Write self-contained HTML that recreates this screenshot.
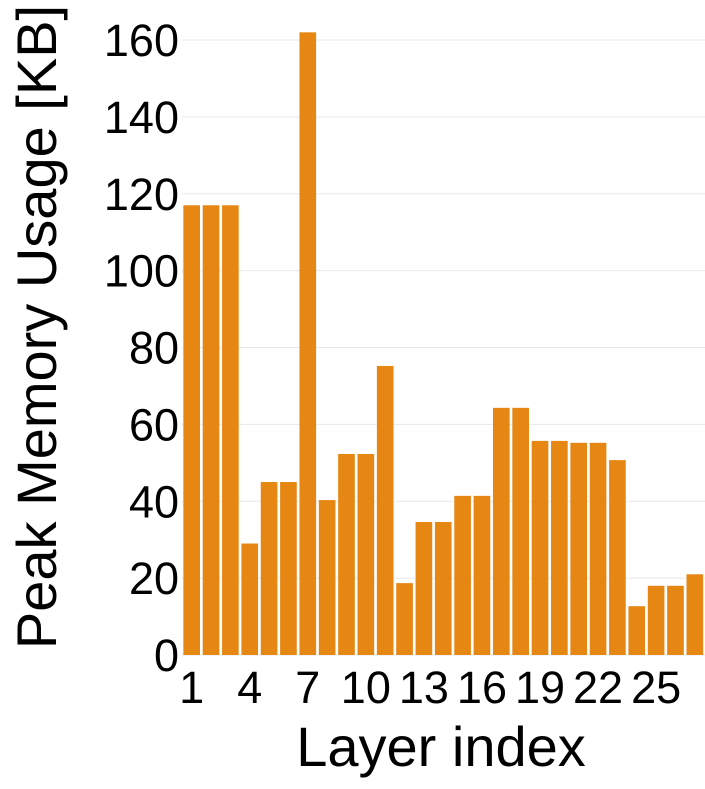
<!DOCTYPE html>
<html><head><meta charset="utf-8"><style>
body{margin:0;background:#fff;}
svg text{font-family:"Liberation Sans",sans-serif;fill:#000;}
</style></head><body>
<svg id="chart" width="705" height="784" xmlns="http://www.w3.org/2000/svg">
<g id="grid"></g>
<g id="bars"></g>
<g id="yticks"></g>
<g id="xticks"></g>
<text transform="translate(56,327) rotate(-90)" text-anchor="middle" font-size="56">Peak Memory Usage [KB]</text>
<text x="441" y="766" text-anchor="middle" font-size="56">Layer index</text>
</svg>
<script>
const values=[117,117,117,29,45,45,162,40.3,52.3,52.3,75.2,18.7,34.6,34.6,41.4,41.4,64.3,64.3,55.7,55.7,55.2,55.2,50.7,12.7,18,18,21];
const yTicks=[0,20,40,60,80,100,120,140,160];
const xTickLabels=[1,4,7,10,13,16,19,22,25];
const ns="http://www.w3.org/2000/svg";
const x0=182,x1=704.5,y0=655,yTop=40,yMax=160;
const step=(x1-x0)/values.length,bw=step*0.86;
const y=v=>y0-(v/yMax)*(y0-yTop);
const cx=i=>x0+(i+0.5)*step;
function mk(t,a,p){const e=document.createElementNS(ns,t);for(const k in a)e.setAttribute(k,a[k]);p.appendChild(e);return e;}
const g=document.getElementById('grid'),b=document.getElementById('bars'),yt=document.getElementById('yticks'),xt=document.getElementById('xticks');
yTicks.forEach(v=>{
 const l=mk('line',{x1:x0,x2:705,y1:y(v),y2:y(v),stroke:'#e6e8ef','stroke-width':1},g);
 
 
 const t=mk('text',{x:179,y:y(v)+16,'text-anchor':'end','font-size':45},yt);
 t.textContent=v;
 
 
});
values.forEach((v,i)=>{
 const r=mk('rect',{x:cx(i)-bw/2,y:y(v),width:bw,height:y0-y(v),fill:'#e68613'},b);
 
 
});
xTickLabels.forEach(v=>{
 const t=mk('text',{x:cx(v-1),y:703,'text-anchor':'middle','font-size':45},xt);
 t.textContent=v;
 
 
});
</script>
</body></html>
